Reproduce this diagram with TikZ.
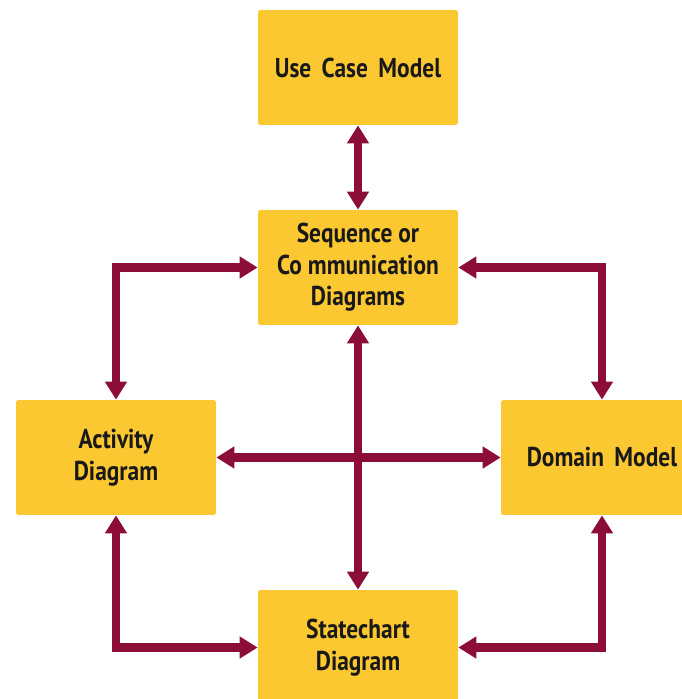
\documentclass[tikz,border=0pt]{standalone}
\usepackage{fontspec}
\newfontfamily\boxfont[FakeStretch=0.86]{PT Sans}
\usepackage{xcolor}
\usetikzlibrary{arrows.meta}
\usetikzlibrary{positioning}

\definecolor{boxyellow}{RGB}{252,200,50}
\definecolor{arrowred}{RGB}{140,12,58}

\begin{document}
\begin{tikzpicture}[x=0.02cm, y=-0.02cm,
  model/.style={fill=boxyellow, rounded corners=1pt, minimum width=4cm, minimum height=2.3cm,
    align=center, inner sep=0pt, text=black!90,
    font=\boxfont\bfseries\fontsize{15.5}{18}\selectfont},
  link/.style={draw=arrowred, line width=4.6pt, line join=miter,
    {Triangle[width=0.42cm,length=0.36cm]}-{Triangle[width=0.42cm,length=0.36cm]}}]
\clip (0,0) rectangle (682,699);

\node[model] (usecase) at (358,67.5) {Use\, Case\, Model};
\node[model] (seq) at (358,267.5) {Sequence or\\Co mmunication\\Diagrams};
\node[model] (act) at (116,457.5) {Activity\\Diagram};
\node[model, minimum width=4.04cm] (dom) at (602,457.5) {Domain\, Model};
\node[model] (state) at (358,647.5) {Statechart\\Diagram};

\draw[link] (usecase) -- (seq);
\draw[link] (seq.west) -| (act.north);
\draw[link] (seq.east) -| (dom.north);
\draw[link] (act) -- (dom);
\draw[link] (seq) -- (state);
\draw[link] (act.south) |- (state.west);
\draw[link] (dom.south) |- (state.east);

\end{tikzpicture}
\end{document}
